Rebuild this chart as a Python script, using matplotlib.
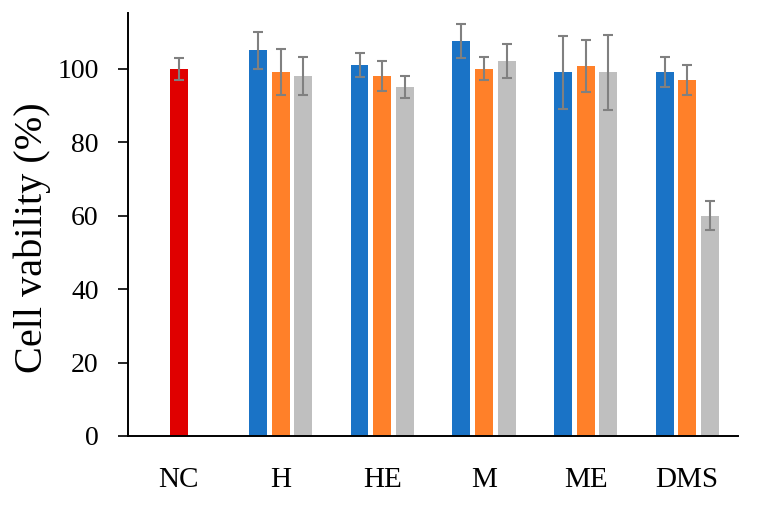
import matplotlib
matplotlib.use("Agg")
import matplotlib.pyplot as plt
import numpy as np

categories = ["NC", "H", "HE", "M", "ME", "DMS"]
nc_value = [100]
nc_err = [3]
blue_vals = [105, 101, 107.5, 99, 99]
blue_err = [5, 3.2, 4.7, 10, 4.1]
orange_vals = [99, 98, 100, 100.7, 97]
orange_err = [6.2, 4, 3.2, 7.2, 4.1]
gray_vals = [98, 95, 102, 99, 60]
gray_err = [5.2, 3, 4.6, 10.2, 4]

plt.rcParams['font.family'] = ['Liberation Serif', 'DejaVu Serif']

fig = plt.figure(figsize=(7.61, 5.15), dpi=100)
ax = fig.add_axes([0.1682, 0.1534, 0.8016, 0.8204])

w = 0.177
step = 0.223
ekw = dict(ecolor='#808080', elinewidth=1.5, capsize=3.8, capthick=1.5)

x = np.arange(len(categories))
ax.bar(x[:1], nc_value, width=w, color='#E00000', yerr=nc_err, error_kw=ekw, zorder=2)
xg = x[1:]
ax.bar(xg - step, blue_vals, width=w, color='#1A73C6', yerr=blue_err, error_kw=ekw, zorder=2)
ax.bar(xg, orange_vals, width=w, color='#FF8029', yerr=orange_err, error_kw=ekw, zorder=2)
ax.bar(xg + step, gray_vals, width=w, color='#BFBFBF', yerr=gray_err, error_kw=ekw, zorder=2)

ax.set_xlim(-0.5, len(categories) - 0.5)
ax.set_ylim(0, 115)
ax.set_yticks([0, 20, 40, 60, 80, 100])
ax.set_xticks(x)
ax.set_xticklabels(categories, fontsize=21)
ax.tick_params(axis='x', length=0, pad=22)
ax.tick_params(axis='y', length=7, width=1.2, labelsize=20, pad=14)
ax.set_ylabel("Cell vability (%)", fontsize=29)
ax.yaxis.set_label_coords(-0.127, 0.47)

for s in ['top', 'right']:
    ax.spines[s].set_visible(False)
for s in ['left', 'bottom']:
    ax.spines[s].set_linewidth(1.4)

fig.savefig("out.png", dpi=100)
